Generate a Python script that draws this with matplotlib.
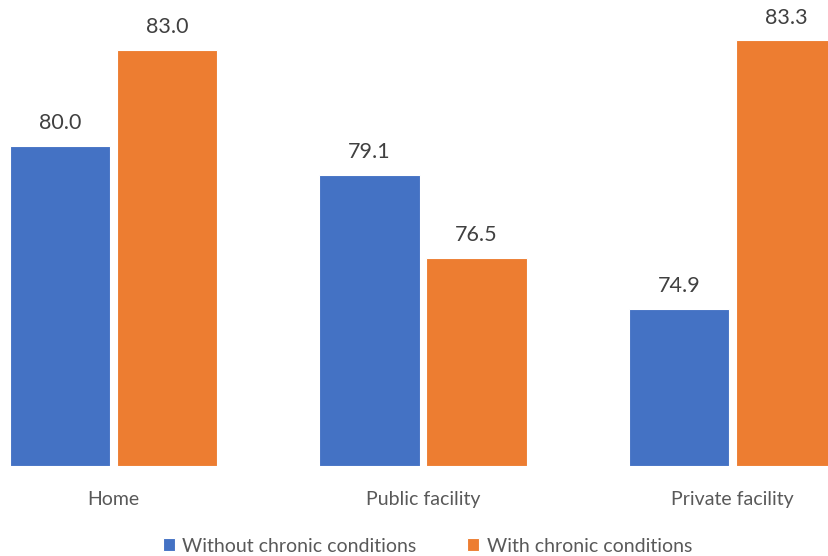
import matplotlib.pyplot as plt
import numpy as np

plt.rcParams['font.family'] = ['Lato', 'DejaVu Sans']

places = ['Home', 'Public facility', 'Private facility']
without_chronic = [80.0, 79.1, 74.9]
with_chronic = [83.0, 76.5, 83.3]

blue = '#4472C4'
orange = '#ED7D31'
text_col = '#595959'

W, H = 829, 556
fig = plt.figure(figsize=(W / 100, H / 100), dpi=100)
# axes spans the full width; bottom edge sits on the bar baseline
ax = fig.add_axes([0, (H - 466) / H, 1, 466 / H])

x = np.arange(len(places))
w = 0.326
off = 0.173
b1 = ax.bar(x - off, [v - 70 for v in without_chronic], w, bottom=70,
            color=blue, edgecolor='white', linewidth=0.8,
            label='Without chronic conditions')
b2 = ax.bar(x + off, [v - 70 for v in with_chronic], w, bottom=70,
            color=orange, edgecolor='white', linewidth=0.8,
            label='With chronic conditions')

for bars, vals in [(b1, without_chronic), (b2, with_chronic)]:
    for r, v in zip(bars, vals):
        ax.text(r.get_x() + r.get_width() / 2, v + 0.4, f'{v:.1f}',
                ha='center', va='bottom', fontsize=15.5, color='#404040')

ax.set_xlim(-113.5 / 309.5, (W - 113.5) / 309.5)
ax.set_ylim(70, 70 + 466 / 32)
ax.set_yticks([])
ax.set_xticks(x)
ax.set_xticklabels(places, fontsize=14, color=text_col)
ax.tick_params(axis='x', length=0, pad=18)
for s in ax.spines.values():
    s.set_visible(False)

fig.legend(handles=[b1, b2], loc='center',
           bbox_to_anchor=(427.5 / W, 1 - 546 / H),
           ncol=2, frameon=False, fontsize=14, labelcolor=text_col,
           handlelength=0.6, handleheight=0.6, handletextpad=0.4,
           columnspacing=2.6)

fig.savefig('out.png', dpi=100)
